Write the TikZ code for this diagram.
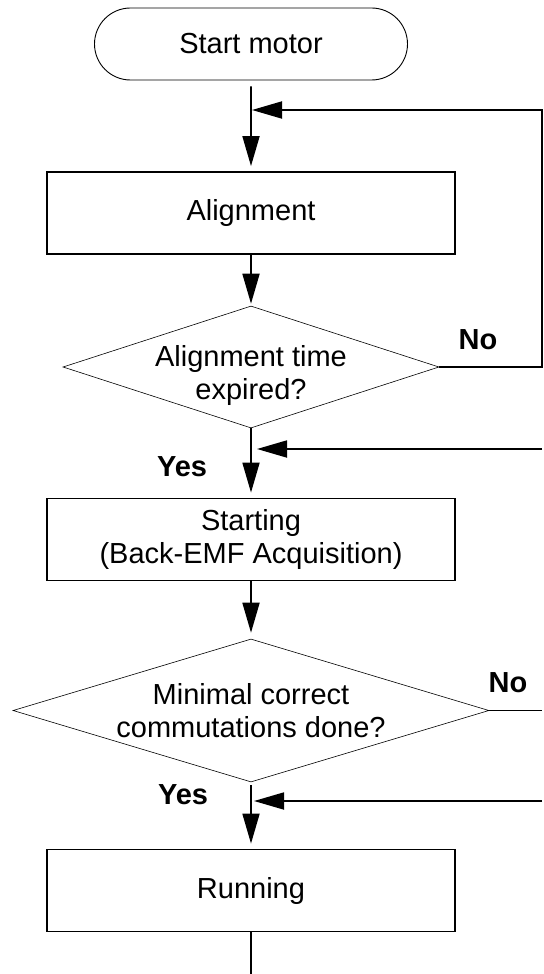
\documentclass[tikz,border=0pt]{standalone}
\usepackage{fontspec}
\setmainfont{Liberation Sans}
\usetikzlibrary{arrows.meta,shapes.geometric,shapes.misc}

\tikzset{
	every node/.style = {font=\fontsize{14.5}{16.5}\selectfont},
	stepbox/.style = {draw, line width=0.9pt, minimum width=204pt, minimum height=41pt, inner sep=0pt, align=center},
	termbox/.style = {draw, line width=0.45pt, rounded rectangle, minimum width=156.5pt, minimum height=36pt, inner sep=0pt},
	testbox/.style = {draw, line width=0.3pt, diamond, inner sep=-8pt, align=center},
	flow/.style = {line width=0.9pt, -{Triangle[length=15pt,width=8.5pt]}},
	answer/.style = {font=\fontsize{14.5}{16.5}\selectfont\bfseries},
}

\begin{document}
\begin{tikzpicture}[x=0.5pt, y=-0.5pt]
		\useasboundingbox (0,0) rectangle (543,974);
		\node[termbox] (start) at (251,44) {Start motor};
		\node[stepbox] (align) at (251,213) {Alignment};
		\node[testbox, aspect=3.08, minimum width=188pt, minimum height=61pt, text height=36pt] (timeout) at (251,367) {Alignment time\\expired?};
		\node[stepbox] (starting) at (251,539.5) {Starting\\(Back-EMF Acquisition)};
		\node[testbox, aspect=3.33, minimum width=238pt, minimum height=71.5pt] (commut) at (251,710.5) {Minimal correct\\commutations done?};
		\node[stepbox] (run) at (251,890.5) {Running};
		\node[answer] (no1) at (478,340) {No};
		\node[answer] (yes1) at (182,467) {Yes};
		\node[answer] (no2) at (508,683) {No};
		\node[answer] (yes2) at (183,795) {Yes};
		\coordinate (join0) at (251,110);
		\coordinate (turn0) at (542,110);
		\coordinate (in1) at (542,449);
		\coordinate (join1) at (251,449);
		\coordinate (out2) at (542,710.5);
		\coordinate (in2) at (542,801);
		\coordinate (join2) at (251,801);
		\coordinate (exit) at (251,974);
	%	main line
		\draw[flow, shorten <=3pt, shorten >=2.5pt] (start) -- (align);
		\draw[flow, shorten >=1pt] (align) -- (timeout);
		\draw[flow, shorten >=2.5pt] (timeout) -- (starting);
		\draw[flow, shorten >=3pt] (starting) -- (commut);
		\draw[flow, shorten <=1.5pt, shorten >=2.5pt] (commut) -- (run);
		\draw[line width=0.9pt] (run) -- (exit);
		\draw[flow, shorten >=0.5pt] (timeout.east) -| (turn0) -- (join0);
		\draw[flow, shorten >=3pt] (in1) -- (join1);
		\draw[line width=0.9pt] (commut.east) -- (out2);
		\draw[flow, shorten >=1.5pt] (in2) -- (join2);
	\end{tikzpicture}
\end{document}
